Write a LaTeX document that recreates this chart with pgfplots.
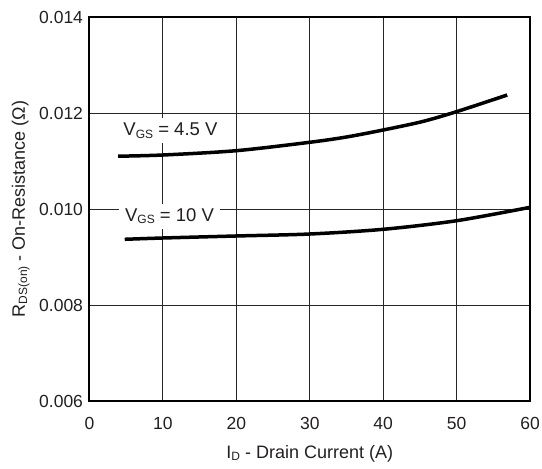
\documentclass[border=0pt]{standalone}
\usepackage{pgfplots}
\pgfplotsset{compat=1.18}
\usepackage{fontspec}
\setmainfont{Liberation Sans}
\definecolor{txt}{HTML}{231F20}
\newcommand\sub[1]{\raisebox{-2.2bp}{\fontsize{12bp}{14bp}\selectfont #1}}
\begin{document}
\begin{tikzpicture}
\begin{axis}[name=ax, scale only axis, width=440.5bp, height=384bp,
  xmin=0, xmax=60, ymin=0.006, ymax=0.014,
  xtick={0,10,20,30,40,50,60},
  ytick={0.006,0.008,0.010,0.012,0.014},
  grid=major, major grid style={line width=1bp, color=black!85},
  axis line style={line width=2bp, color=black},
  major tick length=0pt,
  tick label style={font=\fontsize{17.5bp}{20bp}\selectfont, color=txt},
  /pgf/number format/assume math mode=true,
  yticklabel style={xshift=-3bp, /pgf/number format/fixed, /pgf/number format/fixed zerofill, /pgf/number format/precision=3},
  xticklabel style={yshift=-12.5bp},
  scaled y ticks=false,
  label style={font=\fontsize{18bp}{21bp}\selectfont, color=txt},
  xlabel={I\sub{D} - Drain Current (A)},
  ylabel={R\sub{DS(on)} - On-Resistance (Ω)},
  xlabel style={at={([yshift=-57bp]rel axis cs:0.5,0)}, anchor=base},
  ylabel style={at={([xshift=-64.5bp]rel axis cs:0,0.5)}, anchor=base, rotate=0},
  clip=false,
]
\addplot[line width=3.5bp, black, smooth, tension=0.5] coordinates {
  (3.9,0.01110) (10,0.011125) (20,0.011215) (30,0.01139) (35,0.01150) (40,0.011646) (45.3,0.01182) (50,0.012028) (56.9,0.012375)
};
\addplot[line width=3.5bp, black, smooth, tension=0.5] coordinates {
  (4.8,0.009369) (10,0.009396) (20,0.009438) (30,0.009479) (40,0.009577) (50,0.009756) (60,0.010035)
};
\node[fill=white, inner xsep=6.5bp, inner ysep=5bp, anchor=base west, xshift=-6.5bp, font=\fontsize{18.5bp}{21bp}\selectfont, text=txt]
  at (axis cs:4.6,0.011521) {V\sub{GS} = 4.5 V};
\node[fill=white, inner xsep=6.5bp, inner ysep=5bp, anchor=base west, xshift=-6.5bp, font=\fontsize{18.5bp}{21bp}\selectfont, text=txt]
  at (axis cs:4.83,0.009735) {V\sub{GS} = 10 V};
\end{axis}
\pgfresetboundingbox
\path[use as bounding box] ([xshift=-89.5bp,yshift=-67bp]ax.south west) rectangle ([xshift=12bp,yshift=17bp]ax.north east);
\end{tikzpicture}
\end{document}
